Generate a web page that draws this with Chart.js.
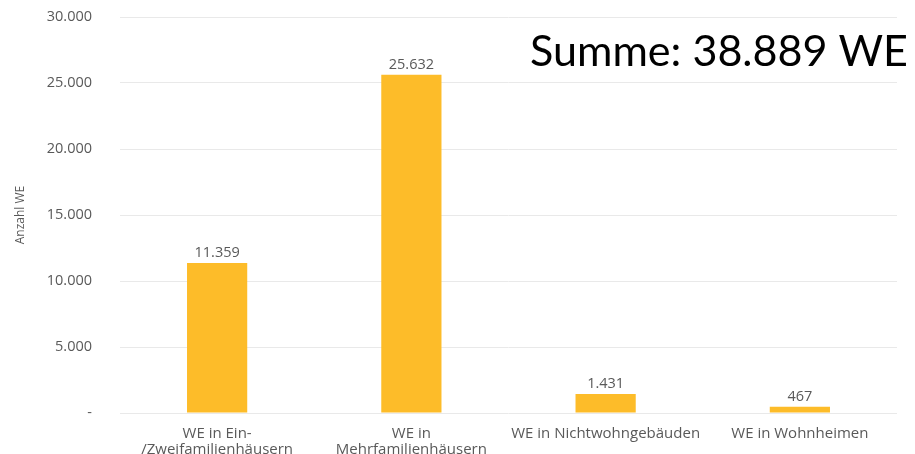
<!DOCTYPE html>
<html>
<head>
<meta charset="utf-8">
<script src="https://cdn.jsdelivr.net/npm/chart.js@4/dist/chart.umd.min.js"></script>
<style>
  html, body { margin: 0; padding: 0; background: #ffffff; }
  #wrap { width: 915px; height: 454px; position: relative; }
</style>
</head>
<body>
<div id="wrap"><canvas id="c" width="915" height="454"></canvas></div>
<script>
// Wohneinheiten nach Gebäudeart
const categories = [
  ["WE in Ein-", "/Zweifamilienhäusern"],
  ["WE in", "Mehrfamilienhäusern"],
  "WE in Nichtwohngebäuden",
  "WE in Wohnheimen"
];
const units = [11359, 25632, 1431, 467];
const yTicks = [0, 5000, 10000, 15000, 20000, 25000, 30000];
const totalLabel = "Summe: 38.889 WE";
const axisTitle = "Anzahl WE";

const TEXT = "#595959";
const FONT = "'Open Sans', 'Noto Sans', sans-serif";

// German thousands separator, zero shown as a dash
function fmt(v) {
  if (v === 0) return "-";
  return String(Math.round(v)).replace(/\B(?=(\d{3})+(?!\d))/g, ".");
}

const valueLabels = {
  id: "valueLabels",
  afterDatasetsDraw(chart) {
    const ctx = chart.ctx;
    const meta = chart.getDatasetMeta(0);
    ctx.save();
    ctx.font = "14.5px " + FONT;
    ctx.fillStyle = TEXT;
    ctx.textAlign = "center";
    ctx.textBaseline = "bottom";
    meta.data.forEach((bar, i) => {
      ctx.fillText(fmt(units[i]), bar.x, bar.y - 3);
    });
    ctx.restore();
  }
};

const totalText = {
  id: "totalText",
  afterDraw(chart) {
    const ctx = chart.ctx;
    ctx.save();
    const family = "Lato, 'Liberation Sans', sans-serif";
    let size = 48;
    ctx.font = size + "px " + family;
    const target = 378;
    size = size * target / ctx.measureText(totalLabel).width;
    ctx.font = size + "px " + family;
    ctx.fillStyle = "#000000";
    ctx.textAlign = "right";
    ctx.textBaseline = "alphabetic";
    ctx.fillText(totalLabel, 908, 66);
    ctx.restore();
  }
};

new Chart(document.getElementById("c"), {
  type: "bar",
  data: {
    labels: categories,
    datasets: [{
      data: units,
      backgroundColor: "#FDBC29",
      borderWidth: 0,
      categoryPercentage: 1,
      barPercentage: 0.31
    }]
  },
  options: {
    responsive: false,
    animation: false,
    layout: { padding: { top: 17, right: 18, bottom: 0, left: 0 } },
    plugins: { legend: { display: false }, tooltip: { enabled: false } },
    scales: {
      x: {
        grid: { display: false },
        border: { display: false },
        ticks: {
          color: TEXT,
          font: { family: FONT, size: 15, lineHeight: 1.07 },
          padding: 5,
          maxRotation: 0,
          autoSkip: false
        },
        afterFit(scale) { scale.height = 41; }
      },
      y: {
        min: 0,
        max: 30000,
        afterBuildTicks(scale) { scale.ticks = yTicks.map(v => ({ value: v })); },
        grid: { color: "#E9E9E9", lineWidth: 1, drawTicks: false },
        border: { display: false },
        ticks: {
          color: TEXT,
          font: { family: FONT, size: 14.5 },
          padding: 28,
          callback: v => fmt(v)
        },
        title: {
          display: true,
          text: axisTitle,
          color: TEXT,
          font: { family: FONT, size: 12 },
          padding: { top: 13, bottom: 0 }
        },
        afterFit(scale) {
          scale.width = 120;
          scale.paddingTop = 0;
          scale.paddingBottom = 0;
        }
      }
    }
  },
  plugins: [valueLabels, totalText]
});
</script>
</body>
</html>
